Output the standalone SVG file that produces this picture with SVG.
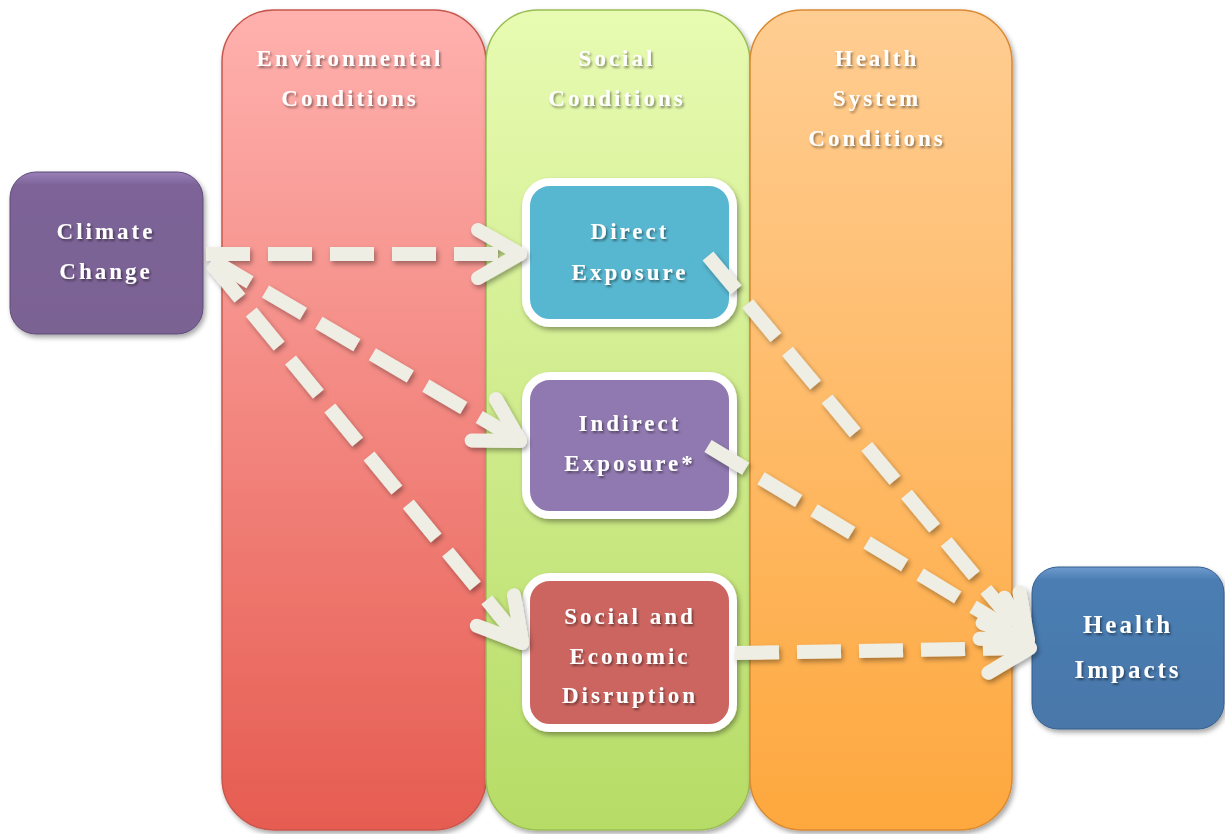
<svg xmlns="http://www.w3.org/2000/svg" width="1225" height="834" viewBox="0 0 1225 834">
<defs>
<linearGradient id="gEnv" x1="0" y1="0" x2="0" y2="1"><stop offset="0" stop-color="#ffb1ae"/><stop offset="1" stop-color="#e65c51"/></linearGradient>
<linearGradient id="gSoc" x1="0" y1="0" x2="0" y2="1"><stop offset="0" stop-color="#e8fbb2"/><stop offset="1" stop-color="#b6dc66"/></linearGradient>
<linearGradient id="gHs" x1="0" y1="0" x2="0" y2="1"><stop offset="0" stop-color="#ffcd92"/><stop offset="1" stop-color="#fea83e"/></linearGradient>
<linearGradient id="gCC" x1="0" y1="0" x2="0" y2="1"><stop offset="0" stop-color="#9a80b8"/><stop offset="0.08" stop-color="#7d6498"/><stop offset="1" stop-color="#7a6293"/></linearGradient>
<linearGradient id="gHI" x1="0" y1="0" x2="0" y2="1"><stop offset="0" stop-color="#6f9bd0"/><stop offset="0.08" stop-color="#4b7db2"/><stop offset="1" stop-color="#4877aa"/></linearGradient>
<filter id="sh" x="-10%" y="-10%" width="120%" height="120%"><feDropShadow dx="2" dy="3" stdDeviation="2.5" flood-color="#000" flood-opacity="0.35"/></filter>
<filter id="tsh" x="-10%" y="-20%" width="120%" height="150%"><feDropShadow dx="1.5" dy="2" stdDeviation="1" flood-color="#000" flood-opacity="0.45"/></filter>
<marker id="ah" markerUnits="userSpaceOnUse" markerWidth="90" markerHeight="90" viewBox="-70 -45 90 90" refX="0" refY="0" orient="auto" overflow="visible">
<path d="M-42,-24 L0,0 L-42,24" fill="none" stroke="#eeeee5" stroke-width="14" stroke-linecap="round" stroke-linejoin="round"/>
</marker>
<style>
.col{filter:url(#sh);stroke-width:1.5}
.lbl{font-family:"Liberation Serif","DejaVu Serif",serif;font-weight:bold;font-size:23px;letter-spacing:3px;fill:#ffffff;text-anchor:middle;filter:url(#tsh)}
.big{font-size:25px}
.inner{stroke:#ffffff;stroke-width:8;filter:url(#sh)}
.con{fill:none;stroke:#eeeee5;stroke-width:14;stroke-dasharray:44 18;marker-end:url(#ah)}
</style>
</defs>
<rect width="1225" height="834" fill="#ffffff"/>
<g id="col-env">
<rect class="col" x="222" y="10" width="264" height="820" rx="52" fill="url(#gEnv)" stroke="#c8574e"/>
<text class="lbl" x="350" y="66">Environmental</text>
<text class="lbl" x="350" y="106">Conditions</text>
</g>
<g id="col-soc">
<rect class="col" x="486" y="10" width="264" height="820" rx="52" fill="url(#gSoc)" stroke="#9bbd55"/>
<text class="lbl" x="617" y="66">Social</text>
<text class="lbl" x="617" y="106">Conditions</text>
</g>
<g id="col-hs">
<rect class="col" x="750" y="10" width="262" height="820" rx="52" fill="url(#gHs)" stroke="#d98a33"/>
<text class="lbl" x="877" y="66">Health</text>
<text class="lbl" x="877" y="106">System</text>
<text class="lbl" x="877" y="146">Conditions</text>
</g>
<g id="climate-change">
<rect x="10" y="172" width="193" height="162" rx="26" fill="url(#gCC)" stroke="#5f4b78" stroke-width="1" filter="url(#sh)"/>
<text class="lbl" x="106" y="239">Climate</text>
<text class="lbl" x="106" y="279">Change</text>
</g>
<g id="direct-exposure">
<rect class="inner" x="526" y="182" width="207" height="141" rx="24" fill="#59b7d0"/>
<text class="lbl" x="630" y="239">Direct</text>
<text class="lbl" x="630" y="280">Exposure</text>
</g>
<g id="indirect-exposure">
<rect class="inner" x="526" y="376" width="207" height="139" rx="24" fill="#9079b0"/>
<text class="lbl" x="630" y="431">Indirect</text>
<text class="lbl" x="630" y="471">Exposure*</text>
</g>
<g id="social-economic-disruption">
<rect class="inner" x="526" y="577" width="207" height="151" rx="24" fill="#cc6560"/>
<text class="lbl" x="630" y="624">Social and</text>
<text class="lbl" x="630" y="664">Economic</text>
<text class="lbl" x="630" y="703">Disruption</text>
</g>
<g id="health-impacts">
<rect x="1032" y="567" width="192" height="162" rx="26" fill="url(#gHI)" stroke="#345f8c" stroke-width="1" filter="url(#sh)"/>
<text class="lbl big" x="1128" y="633">Health</text>
<text class="lbl big" x="1128" y="678">Impacts</text>
</g>
<g id="connectors" filter="url(#sh)">
<line class="con" x1="206" y1="254" x2="520" y2="254"/>
<line class="con" x1="212" y1="260" x2="520" y2="441"/>
<line class="con" x1="212" y1="264" x2="522" y2="643"/>
<line class="con" x1="708" y1="256" x2="1028" y2="640"/>
<line class="con" x1="708" y1="446" x2="1028" y2="640"/>
<line class="con" x1="735" y1="653" x2="1030" y2="648"/>
</g>
</svg>
